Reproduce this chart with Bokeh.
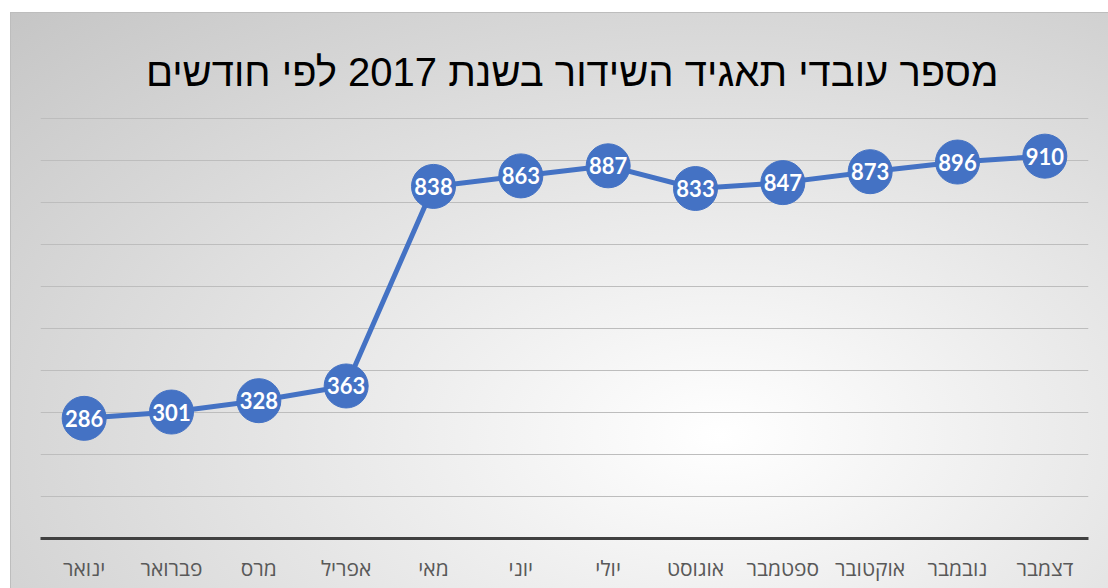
from bokeh.plotting import figure
from bokeh.models import FactorRange, Range1d, SingleIntervalTicker, ColumnDataSource
from bokeh.core.properties import value
from bokeh.embed import file_html
from bokeh.resources import INLINE

title_text = "מספר עובדי תאגיד השידור בשנת 2017 לפי חודשים"
months = ["ינואר", "פברואר", "מרס", "אפריל", "מאי", "יוני", "יולי",
          "אוגוסט", "ספטמבר", "אוקטובר", "נובמבר", "דצמבר"]
employees = [286, 301, 328, 363, 838, 863, 887, 833, 847, 873, 896, 910]
y_min, y_max, y_step = 0, 1000, 100

src = ColumnDataSource(dict(m=months, v=employees, lbl=[str(v) for v in employees]))

p = figure(x_range=FactorRange(factors=months), y_range=Range1d(y_min, y_max + 2),
           width=1108, height=588, output_backend="svg", toolbar_location=None,
           min_border_left=40, min_border_right=20, min_border_top=117, min_border_bottom=50)

p.styles = {
    "background": "radial-gradient(ellipse farthest-corner at 65% 74%, #ffffff 0%, #f7f7f7 14%, #c4c4c4 100%)",
    "box-shadow": "inset 10px 12px 0 0 #ffffff, inset 11px 13px 0 0 #bdbdbd",
}
p.background_fill_alpha = 0
p.border_fill_alpha = 0
p.outline_line_color = None

p.title.text = title_text
p.title.align = "right"
p.title.offset = 90
p.title.text_font = "Liberation Sans"
p.title.text_font_size = "40px"
p.title.text_font_style = "normal"
p.title.text_color = "#000000"
p.title.standoff = 47

p.yaxis.visible = False
p.ygrid.ticker = SingleIntervalTicker(interval=y_step)
p.ygrid.grid_line_color = "#bdbdbd"
p.ygrid.grid_line_width = 1
p.xgrid.grid_line_color = None

ax = p.xaxis[0]
ax.axis_line_color = "#404040"
ax.axis_line_width = 3
ax.major_tick_line_color = None
ax.minor_tick_line_color = None
ax.major_label_text_font = "Open Sans"
ax.major_label_text_font_size = "21px"
ax.major_label_text_color = "#595959"
ax.major_label_standoff = 9

p.line("m", "v", source=src, line_color="#4472C4", line_width=5)
p.scatter("m", "v", source=src, size=44, fill_color="#4472C4", line_color="#4472C4")
p.text("m", "v", text="lbl", source=src, text_align="center", text_baseline="middle",
       text_color="white", text_font=value("Lato"), text_font_style="bold",
       text_font_size="22px")

open("out.html", "w").write(file_html(p, INLINE))
